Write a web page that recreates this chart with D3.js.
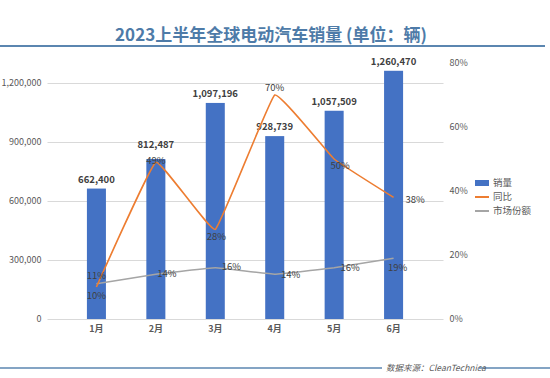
<!DOCTYPE html>
<html><head><meta charset="utf-8">
<script src="https://cdn.jsdelivr.net/npm/d3@7"></script>
<style>
html,body{margin:0;padding:0;background:#fff;}
text{font-family:"Noto Sans CJK SC","Noto Sans",sans-serif;}
</style></head>
<body><svg id="c" width="550" height="378"></svg>
<script>
const months = ["1月","2月","3月","4月","5月","6月"];
const sales = [662400, 812487, 1097196, 928739, 1057509, 1260470];
const yoy = [10, 49, 28, 70, 50, 38];
const share = [11, 14, 16, 14, 16, 19];
const leftTicks = [0, 300000, 600000, 900000, 1200000];
const rightTicks = [0, 20, 40, 60, 80];
const seriesNames = ["销量", "同比", "市场份额"];
const colors = {bar:"#4472C4", yoy:"#ED7D31", share:"#A5A5A5"};

(function(){
const svg = d3.select("#c");
const pTop = 63, pBottom = 319, pLeft = 46.5, pRight = 443.5;

const x = d3.scaleBand().domain(months).range([pLeft, pRight]).padding(0.68);
const yL = d3.scaleLinear().domain([0, 1300000]).range([pBottom, pTop]);
const yR = d3.scaleLinear().domain([0, 80]).range([pBottom, pTop]);
const cx = m => x(m) + x.bandwidth()/2;

// title
svg.append("text").attr("x", 271).attr("y", 41).attr("text-anchor","middle")
  .attr("font-size", 17).attr("font-weight","bold").attr("fill","#4E7BA8")
  .text("2023上半年全球电动汽车销量 (单位：辆)");
svg.append("line").attr("x1",0).attr("x2",545).attr("y1",46).attr("y2",46)
  .attr("stroke","#5B86B0").attr("stroke-width",2);

// gridlines
svg.append("g").selectAll("line").data(leftTicks).join("line")
  .attr("x1", pLeft+1).attr("x2", pRight).attr("y1", d=>Math.round(yL(d))+0.5).attr("y2", d=>Math.round(yL(d))+0.5)
  .attr("stroke","#D9D9D9").attr("stroke-width",1);

// left axis
const gl = svg.append("g").attr("transform",`translate(${pLeft},0)`)
  .call(d3.axisLeft(yL).tickValues(leftTicks).tickSize(0).tickPadding(5).tickFormat(d3.format(",")));
gl.select(".domain").remove();
gl.selectAll("text").attr("font-size",9).attr("fill","#595959").attr("font-family","Noto Sans, sans-serif");

// right axis
const gr = svg.append("g").attr("transform",`translate(${pRight+2},0)`)
  .call(d3.axisRight(yR).tickValues(rightTicks).tickSize(0).tickPadding(4).tickFormat(d=>d+"%"));
gr.select(".domain").remove();
gr.selectAll("text").attr("font-size",9).attr("fill","#595959").attr("font-family","Noto Sans, sans-serif");

// x axis
const gx = svg.append("g").attr("transform",`translate(0,${pBottom})`)
  .call(d3.axisBottom(x).tickSize(0).tickPadding(7));
gx.select(".domain").remove();
gx.selectAll("text").attr("font-size",9).attr("font-weight","bold").attr("fill","#595959");

// bars
svg.append("g").selectAll("rect").data(sales).join("rect")
  .attr("x",(d,i)=>x(months[i])).attr("width",x.bandwidth())
  .attr("y",d=>yL(d)).attr("height",d=>pBottom-yL(d)).attr("fill",colors.bar);

svg.append("g").selectAll("text").data(sales).join("text")
  .attr("x",(d,i)=>cx(months[i])).attr("y",(d,i)=>yL(d)-(i===1?11:6)).attr("text-anchor","middle")
  .attr("font-size",9.5).attr("font-weight","bold").attr("fill","#404040")
  .attr("font-family","Noto Sans, sans-serif")
  .text(d=>d3.format(",")(d));

// lines
const curve = d3.curveCardinal.tension(0.75);
const lineY = d3.line().x((d,i)=>cx(months[i])).y(d=>yR(d)).curve(curve);
svg.append("path").datum(share).attr("d",lineY).attr("fill","none")
  .attr("stroke",colors.share).attr("stroke-width",1.6);
svg.append("path").datum(yoy).attr("d",lineY).attr("fill","none")
  .attr("stroke",colors.yoy).attr("stroke-width",1.6);

// line labels
const yoyOff = [[0,9],[0,-1],[1,8],[0,-7],[6,7],[12,3]];
svg.append("g").selectAll("text").data(yoy).join("text")
  .attr("x",(d,i)=>cx(months[i])+yoyOff[i][0]).attr("y",(d,i)=>yR(d)+yoyOff[i][1])
  .attr("text-anchor",(d,i)=>i===5?"start":"middle").attr("dominant-baseline","middle")
  .attr("font-size",9.5).attr("fill","#404040").attr("font-family","Noto Sans, sans-serif")
  .text(d=>d+"%");
const shOff = [[0,-7],[11,0],[16,0],[16,1],[16,1],[4,10]];
svg.append("g").selectAll("text").data(share).join("text")
  .attr("x",(d,i)=>cx(months[i])+shOff[i][0]).attr("y",(d,i)=>yR(d)+shOff[i][1])
  .attr("text-anchor","middle").attr("dominant-baseline","middle")
  .attr("font-size",9.5).attr("fill","#404040").attr("font-family","Noto Sans, sans-serif")
  .text(d=>d+"%");

// legend
const lg = svg.append("g").attr("transform","translate(475,183)");
seriesNames.forEach((n,i)=>{
  const g = lg.append("g").attr("transform",`translate(0,${i*14})`);
  if(i===0) g.append("rect").attr("x",0).attr("y",-3).attr("width",14).attr("height",6).attr("fill",colors.bar);
  else g.append("line").attr("x1",0).attr("x2",14).attr("y1",0).attr("y2",0)
    .attr("stroke", i===1?colors.yoy:colors.share).attr("stroke-width",2);
  g.append("text").attr("x",18).attr("y",0).attr("dominant-baseline","middle")
    .attr("font-size",9.5).attr("fill","#595959").text(n);
});

// footer
svg.append("line").attr("x1",0).attr("x2",382).attr("y1",368).attr("y2",368).attr("stroke","#5B86B0").attr("stroke-width",1.5);
svg.append("line").attr("x1",479).attr("x2",550).attr("y1",368).attr("y2",368).attr("stroke","#5B86B0").attr("stroke-width",1.5);
svg.append("text").attr("x",386).attr("y",371).attr("font-size",8.5).attr("font-style","italic")
  .attr("fill","#595959").text("数据来源：CleanTechnica");
})();
</script></body></html>
